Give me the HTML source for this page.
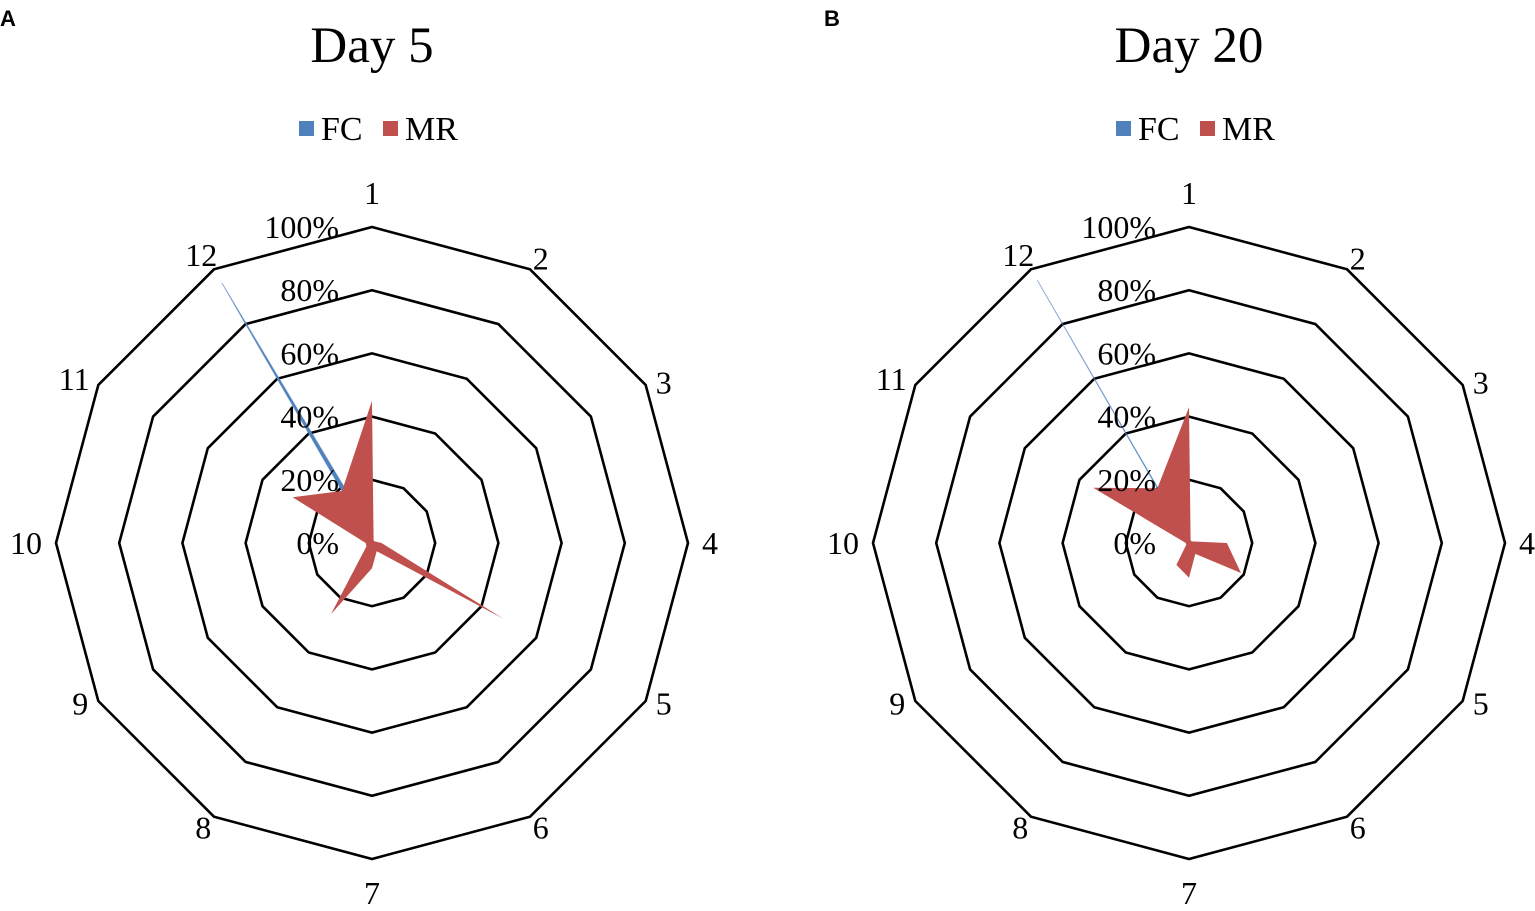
<!DOCTYPE html>
<html><head><meta charset="utf-8"><style>
html,body{margin:0;padding:0;background:#fff;}
svg{display:block;}
</style></head><body>
<svg id="chart" width="1535" height="911" xmlns="http://www.w3.org/2000/svg">
<text x="0" y="26" font-family="Liberation Sans, sans-serif" font-weight="bold" font-size="22">A</text>
<text x="824" y="26" font-family="Liberation Sans, sans-serif" font-weight="bold" font-size="22">B</text>
</svg>
<script>
const axes = ['1','2','3','4','5','6','7','8','9','10','11','12'];
const ticks = ['0%','20%','40%','60%','80%','100%'];
const ringLevels = [20,40,60,80,100];
const titles = ['Day 5','Day 20'];
const fcDay5 = [3,0,0,0,0,0,0,0,0,0,0,95];
const mrDay5 = [45,1,1,3,48,3,8,26,2,2,29,19];
const fcDay20 = [0.5,0,0,0,0,0,0,0,0,0,0,96];
const mrDay20 = [43,1,1,12,19,4,11,8,1,1,35,20];

const NS='http://www.w3.org/2000/svg';
const svg=document.getElementById('chart');
const R=316, CY=543;
function el(tag,attrs,parent){const e=document.createElementNS(NS,tag);for(const k in attrs)e.setAttribute(k,attrs[k]);(parent||svg).appendChild(e);return e;}
function pt(cx,i,v){const a=i*2*Math.PI/axes.length;const r=v/100*R;return [cx+r*Math.sin(a),CY-r*Math.cos(a)];}
function poly(cx,vals){return vals.map((v,i)=>pt(cx,i,v).map(n=>n.toFixed(1)).join(',')).join(' ');}
const F='Liberation Serif, serif';

function panel(cx,title,fc,mr,key){
  const g=el('g',{});
  
  
  let t=el('text',{x:cx,y:62,'text-anchor':'middle','font-family':F,'font-size':51},g);t.textContent=title;
  
  
  const lx=cx-73;
  let r1=el('rect',{x:lx,y:121,width:15,height:15,fill:'#4f81bd'},g);
  
  
  let t1=el('text',{x:lx+22,y:140,'font-family':F,'font-size':34},g);t1.textContent='FC';
  
  
  let r2=el('rect',{x:lx+84,y:121,width:15,height:15,fill:'#c0504d'},g);
  
  
  let t2=el('text',{x:lx+106,y:140,'font-family':F,'font-size':34},g);t2.textContent='MR';
  
  
  ringLevels.forEach(l=>{
    const p=el('polygon',{points:poly(cx,axes.map(()=>l)),fill:'none',stroke:'#000','stroke-width':2.6},g);
    
    
  });
  const pf=el('polygon',{points:poly(cx,fc),fill:'#4f81bd',stroke:'#4f81bd','stroke-width':1,'stroke-opacity':0.6},g);
  
  
  const pm=el('polygon',{points:poly(cx,mr),fill:'#c0504d'},g);
  
  
  ticks.forEach((tk,i)=>{
    const y=CY-i*20/100*R+11;
    const tt=el('text',{x:cx-33,y:y,'text-anchor':'end','font-family':F,'font-size':32},g);tt.textContent=tk;
    
    
  });
  axes.forEach((a,i)=>{
    const ang=i*2*Math.PI/axes.length;
    const hw=a.length*8;
    const rr=330+hw*Math.abs(Math.sin(ang))+20*Math.pow(Math.abs(Math.cos(ang)),12);
    let [x,y]=pt(cx,i,100*rr/R);
    const sh=9*Math.abs(Math.sin(2*ang));
    y += (y<CY ? sh : -sh);
    const tt=el('text',{x:x,y:y+11,'text-anchor':'middle','font-family':F,'font-size':32},g);tt.textContent=a;
    
    
  });
}
panel(372,titles[0],fcDay5,mrDay5,'day5');
panel(1189,titles[1],fcDay20,mrDay20,'day20');
</script>
</body></html>
